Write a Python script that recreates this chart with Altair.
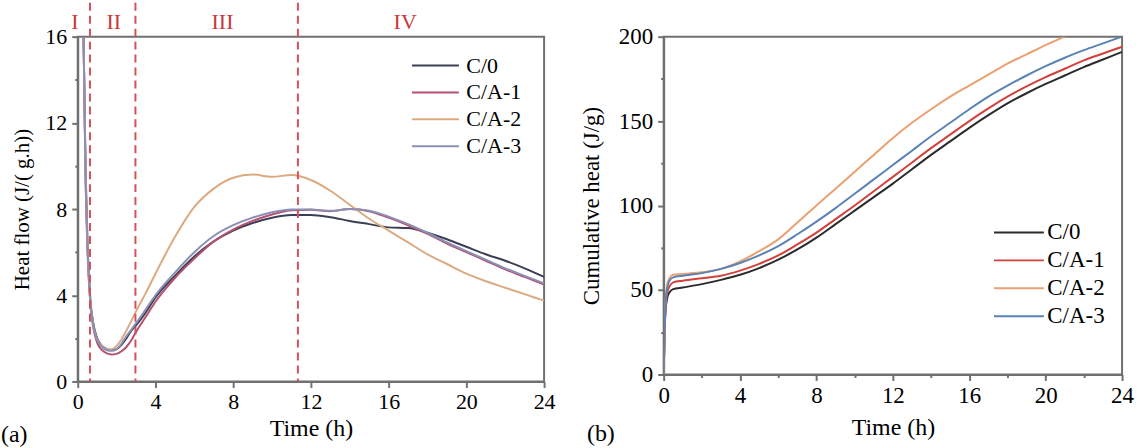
import altair as alt
import pandas as pd

FONT = "Liberation Serif"
series = ["C/0", "C/A-1", "C/A-2", "C/A-3"]

# ---- (a) heat flow ----
t_flow = [0.3, 0.4, 0.5, 0.65, 0.8, 1.0, 1.25, 1.5, 1.75, 2.0, 2.25, 2.5, 2.75, 3.0, 3.5,
          4, 5, 6, 7, 8, 9, 10, 11, 12, 13, 14, 15, 16, 17, 18, 19, 20, 21, 22, 23, 24]
flow_c0 = [16, 10, 6.5, 3.8, 2.7, 2.0, 1.65, 1.5, 1.45, 1.5, 1.7, 2.0, 2.35, 2.6, 3.2,
           3.9, 4.9, 5.8, 6.5, 7.0, 7.35, 7.6, 7.72, 7.72, 7.62, 7.45, 7.3, 7.15, 7.12, 6.9,
           6.6, 6.25, 5.9, 5.6, 5.25, 4.85]
flow_a1 = [16, 9.5, 6.2, 3.6, 2.5, 1.8, 1.45, 1.3, 1.25, 1.28, 1.4, 1.6, 1.9, 2.3, 3.0,
           3.7, 4.8, 5.7, 6.5, 7.05, 7.45, 7.75, 7.95, 7.97, 7.9, 8.0, 7.9, 7.6, 7.25, 6.85,
           6.4, 6.0, 5.6, 5.2, 4.85, 4.5]
flow_a2 = [16, 9.8, 6.4, 3.7, 2.6, 1.95, 1.65, 1.5, 1.5, 1.65, 1.95, 2.35, 2.8, 3.25, 4.1,
           5.0, 6.7, 8.1, 8.95, 9.45, 9.6, 9.5, 9.58, 9.35, 8.85, 8.2, 7.55, 7.0, 6.45, 5.9,
           5.45, 5.0, 4.65, 4.35, 4.05, 3.75]
flow_a3 = [16, 9.8, 6.4, 3.7, 2.6, 1.95, 1.6, 1.45, 1.42, 1.5, 1.75, 2.1, 2.4, 2.7, 3.35,
           4.0, 5.05, 6.0, 6.75, 7.25, 7.6, 7.85, 7.98, 7.98, 7.92, 8.0, 7.92, 7.65, 7.3, 6.9,
           6.45, 6.05, 5.65, 5.25, 4.9, 4.55]

phase_labels = ["I", "II", "III", "IV"]
phase_label_t = [-0.15, 1.85, 7.45, 16.85]
phase_bounds = [0.63, 2.97, 11.33]

# ---- (b) cumulative heat ----
t_cum = [0, 0.05, 0.1, 0.2, 0.3, 0.5, 1, 2, 3, 4, 5, 6, 7, 8, 9, 10, 11, 12, 13, 14,
         15, 16, 17, 18, 19, 20, 21, 22, 23, 24]
cum_c0 = [0, 25, 38, 46, 48.5, 50.5, 51.5, 53.5, 56, 59, 63, 68, 74, 81, 89, 97, 105, 113,
          121.5, 130, 138, 146, 153.5, 160.5, 166.5, 172, 177, 182, 186.5, 191]
cum_a1 = [0, 26, 40, 49, 52, 54.5, 55.5, 57, 58.5, 61.5, 65.5, 70.5, 77, 84, 92, 100, 108.5,
          117, 125.5, 134, 142, 150, 157.5, 164.5, 170.5, 176, 181, 186, 190, 194]
cum_a2 = [0, 28, 43, 54, 57, 59, 59.5, 60.5, 62.5, 67, 73, 80, 90, 100, 110, 120, 130, 140,
          149, 157, 164.5, 171, 177.5, 184, 189.5, 195, 200]
cum_a3 = [0, 27, 42, 52, 55.5, 57.5, 58.5, 60, 62.5, 66, 70.5, 76, 83, 90.5, 98.5, 107,
          115.5, 124, 132.5, 141, 149, 157, 164.5, 171, 177, 182.5, 187.5, 192, 196, 200]

panel_tags = ["(a)", "(b)"]

left_colors = ["#3b3f55", "#b5506e", "#dcaa80", "#8a90b5"]
right_colors = ["#2b2b2b", "#d4403c", "#eaa070", "#5b82b5"]


def to_long(t, cols):
    rows = []
    for name, vals in zip(series, cols):
        for i, v in enumerate(vals):
            rows.append({"t": t[i], "v": v, "series": name, "k": i})
    return pd.DataFrame(rows)


df_flow = to_long(t_flow, [flow_c0, flow_a1, flow_a2, flow_a3])
df_cum = to_long(t_cum, [cum_c0, cum_a1, cum_a2, cum_a3])


def tick_size(step):
    return {"condition": {"test": f"datum.value % {step} === 0", "value": 6}, "value": 3}


def x_axis(title_pad, lsize, tsize):
    return alt.Axis(values=list(range(0, 25, 2)),
                    labelExpr="datum.value % 4 === 0 ? datum.label : ''",
                    tickSize=tick_size(4), title="Time (h)", titlePadding=title_pad,
                    labelPadding=4, labelFlush=False, labelFontSize=lsize,
                    titleFontSize=tsize, titleFontWeight=400, titleFont=FONT)


def legend(x, y, size, fsize, offset, rowpad):
    return alt.Legend(orient="none", legendX=x, legendY=y, title=None,
                      symbolType="M-2,0H2", symbolSize=size, symbolStrokeWidth=2,
                      labelFontSize=fsize, labelFont=FONT, labelColor="black",
                      labelOffset=offset, rowPadding=rowpad)


W1, H1 = 468, 346
W2, H2 = 460, 339

lines_a = alt.Chart(df_flow).mark_line(strokeWidth=2, interpolate="monotone", clip=True).encode(
    x=alt.X("t:Q", scale=alt.Scale(domain=[0, 24], nice=False), axis=x_axis(4, 22, 24)),
    y=alt.Y("v:Q", scale=alt.Scale(domain=[0, 16], nice=False),
            axis=alt.Axis(values=list(range(0, 17, 2)),
                          labelExpr="datum.value % 4 === 0 ? datum.label : ''",
                          tickSize=tick_size(4), title="Heat flow (J/( g.h))",
                          titlePadding=12, labelPadding=5, labelFontSize=22,
                          titleFontSize=21, titleFontWeight=400, titleFont=FONT,
                          labelFlush=False)),
    color=alt.Color("series:N", scale=alt.Scale(domain=series, range=left_colors),
                    legend=legend(346, 16, 552, 22, 18, 3)),
    order="k:Q",
)

rules_a = alt.Chart(pd.DataFrame({"t": phase_bounds})).mark_rule(
    color="#d4505c", strokeDash=[8, 5], strokeWidth=2).encode(
    x=alt.X("t:Q", title="Time (h)"), y=alt.value(-34), y2=alt.value(H1))

numerals_a = alt.Chart(pd.DataFrame({"t": phase_label_t, "lab": phase_labels})).mark_text(
    color="#c8383c", fontSize=22, font=FONT, baseline="middle").encode(
    x=alt.X("t:Q", title="Time (h)"), y=alt.value(-15), text="lab:N")

tag_a = alt.Chart(pd.DataFrame({"lab": [panel_tags[0]]})).mark_text(
    fontSize=24, font=FONT, align="left", baseline="middle", color="black").encode(
    x=alt.value(-77), y=alt.value(H1 + 54), text="lab:N")

left = alt.layer(lines_a, rules_a, numerals_a, tag_a).properties(width=W1, height=H1)

lines_b = alt.Chart(df_cum).mark_line(strokeWidth=2, interpolate="monotone", clip=True).encode(
    x=alt.X("t:Q", scale=alt.Scale(domain=[0, 24], nice=False), axis=x_axis(8, 23, 24)),
    y=alt.Y("v:Q", scale=alt.Scale(domain=[0, 200], nice=False),
            axis=alt.Axis(values=list(range(0, 201, 25)),
                          labelExpr="datum.value % 50 === 0 ? datum.label : ''",
                          tickSize=tick_size(50), title="Cumulative heat (J/g)",
                          titlePadding=15, labelPadding=5, labelFontSize=23,
                          titleFontSize=23, titleFontWeight=400, titleFont=FONT,
                          labelFlush=False)),
    color=alt.Color("series:N", scale=alt.Scale(domain=series, range=right_colors),
                    legend=legend(343, 183, 625, 23, 15, 2)),
    order="k:Q",
)

tag_b = alt.Chart(pd.DataFrame({"lab": [panel_tags[1]]})).mark_text(
    fontSize=24, font=FONT, align="left", baseline="middle", color="black").encode(
    x=alt.value(-77), y=alt.value(H2 + 60), text="lab:N")

right = alt.layer(lines_b, tag_b).properties(width=W2, height=H2)

chart = alt.hconcat(left, right, spacing=120, bounds="flush").resolve_scale(
    color="independent").resolve_legend(color="independent").properties(
    padding={"left": 0, "top": 0, "right": 5, "bottom": 0}, background="white"
).configure_view(stroke="#707070", strokeWidth=2).configure_axis(
    domainColor="#707070", domainWidth=2, tickColor="#707070", tickWidth=2,
    labelFont=FONT, labelColor="black",
    titleFont=FONT, titleFontWeight=400, titleColor="black",
    grid=False,
).configure_axisX(titleFontWeight=400)

chart.save("out.html", embed_options={"renderer": "svg", "actions": False})
